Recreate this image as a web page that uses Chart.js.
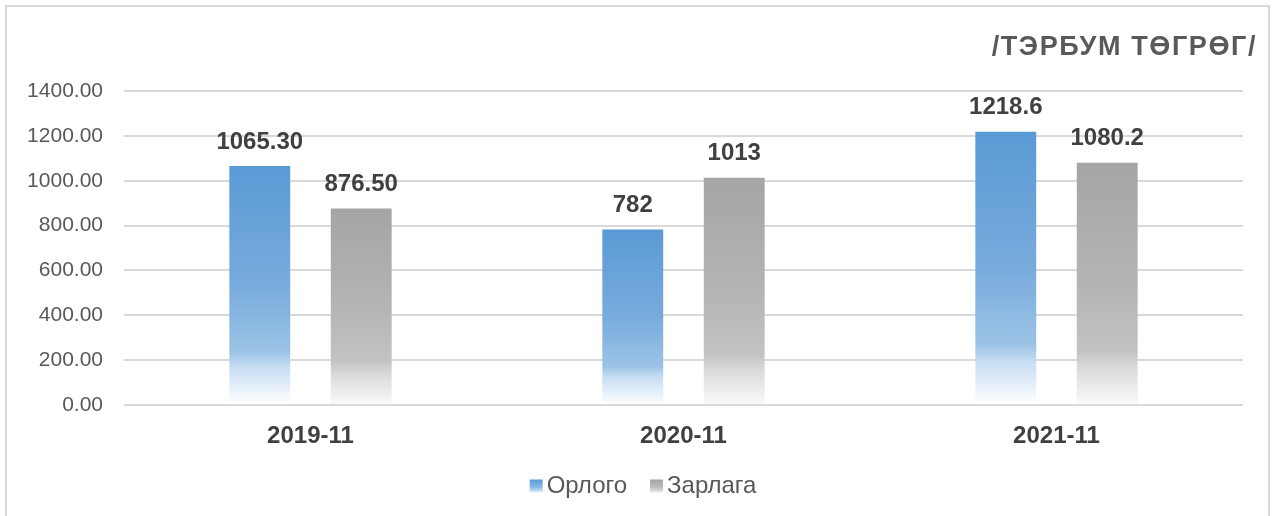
<!DOCTYPE html>
<html><head><meta charset="utf-8">
<script src="https://cdn.jsdelivr.net/npm/chart.js@4.4.0/dist/chart.umd.min.js"></script>
<style>html,body{margin:0;padding:0;background:#fff;}#wrap{position:relative;width:1272px;height:516px;}</style>
</head><body><div id="wrap"><canvas id="c" width="1272" height="516"></canvas></div>
<script>
const categories = ['2019-11', '2020-11', '2021-11'];
const incomeValues = [1065.30, 782, 1218.6];
const expenseValues = [876.50, 1013, 1080.2];
const incomeLabels = ['1065.30', '782', '1218.6'];
const expenseLabels = ['876.50', '1013', '1080.2'];
const seriesNames = ['Орлого', 'Зарлага'];
const yTicks = [0, 200, 400, 600, 800, 1000, 1200, 1400];
const unitTitle = '/ТЭРБУМ ТӨГРӨГ/';

const FONT = "'Liberation Sans', Arial, sans-serif";
const LEGEND_FONT = 24;

function makeGrad(ctx, stops, top, bottom) {
  const g = ctx.createLinearGradient(0, top, 0, bottom);
  stops.forEach(s => g.addColorStop(s[0], s[1]));
  return g;
}
function barGradient(stops, solid) {
  return function (c) {
    const chart = c.chart;
    if (!chart.chartArea || c.type !== 'data') return solid;
    const y = chart.scales.y;
    return makeGrad(chart.ctx, stops, y.getPixelForValue(c.raw), y.getPixelForValue(0));
  };
}
const blueStops = [[0, '#5a9ad5'], [0.5, '#78abdd'], [0.78, '#9cc3e6'], [0.84, '#c6ddf2'], [1, '#ffffff']];
const grayStops = [[0, '#a5a5a5'], [0.5, '#b4b4b4'], [0.78, '#c3c3c3'], [0.84, '#d9d9d9'], [1, '#fafafa']];
const legendStops = [
  [[0, '#5b9bd5'], [0.6, '#8ab9e3'], [1, '#e3eef9']],
  [[0, '#a5a5a5'], [0.6, '#bdbdbd'], [1, '#ececec']]
];

const labelPlugin = {
  id: 'labels',
  afterDatasetsDraw(chart) {
    const ctx = chart.ctx;
    const lbls = [incomeLabels, expenseLabels];
    ctx.save();
    ctx.font = 'bold 24px ' + FONT;
    ctx.fillStyle = '#404040';
    ctx.textAlign = 'center';
    ctx.textBaseline = 'middle';
    chart.data.datasets.forEach((ds, di) => {
      chart.getDatasetMeta(di).data.forEach((bar, i) => {
        ctx.fillText(lbls[di][i], bar.x, bar.y - 24);
      });
    });
    ctx.restore();
  }
};
const framePlugin = {
  id: 'frame',
  afterLayout(chart) {
    // let the y tick labels use the space left of the layout padding
    chart.scales.y.left = 0;
  },
  beforeDraw(chart) {
    const ctx = chart.ctx;
    ctx.save();
    ctx.fillStyle = '#ffffff';
    ctx.fillRect(0, 0, chart.width, chart.height);
    ctx.strokeStyle = '#d9d9d9';
    ctx.lineWidth = 2;
    ctx.strokeRect(6, 6, 1263, 520);
    ctx.restore();
  },
  afterDraw(chart) {
    const ctx = chart.ctx;
    ctx.save();
    ctx.font = 'bold 27px ' + FONT;
    ctx.letterSpacing = '1.6px';
    ctx.fillStyle = '#595959';
    ctx.textAlign = 'right';
    ctx.textBaseline = 'middle';
    ctx.fillText(unitTitle, 1257, 48);
    ctx.restore();
    const lg = chart.legend;
    if (lg && lg.legendHitBoxes) {
      ctx.save();
      lg.legendHitBoxes.forEach((hb, i) => {
        const textX = hb.left + 13 + LEGEND_FONT / 2;
        const bx = textX - 4 - 13;
        const by = hb.top + hb.height / 2 - 6.5;
        ctx.fillStyle = makeGrad(ctx, legendStops[i], by, by + 13);
        ctx.fillRect(bx, by, 13, 13);
      });
      ctx.restore();
    }
  }
};

new Chart(document.getElementById('c'), {
  type: 'bar',
  data: {
    labels: categories,
    datasets: [
      { label: seriesNames[0], data: incomeValues, backgroundColor: barGradient(blueStops, '#5b9bd5'),
        barPercentage: 0.6, categoryPercentage: 0.544 },
      { label: seriesNames[1], data: expenseValues, backgroundColor: barGradient(grayStops, '#a5a5a5'),
        barPercentage: 0.6, categoryPercentage: 0.544 }
    ]
  },
  options: {
    responsive: false,
    animation: false,
    devicePixelRatio: 1,
    layout: { padding: { top: 91, right: 29, left: 35, bottom: 8 } },
    plugins: {
      title: { display: false },
      tooltip: { enabled: false },
      legend: {
        position: 'bottom',
        labels: {
          font: { family: FONT, size: LEGEND_FONT },
          color: '#595959',
          boxWidth: 13, boxHeight: 13, padding: 15,
          generateLabels(chart) {
            return chart.data.datasets.map((d, i) => ({
              text: d.label, fillStyle: 'rgba(0,0,0,0)', strokeStyle: 'rgba(0,0,0,0)', lineWidth: 0,
              datasetIndex: i, hidden: false, fontColor: '#595959'
            }));
          }
        }
      }
    },
    scales: {
      x: {
        grid: { display: false, drawTicks: false },
        border: { display: false },
        ticks: { font: { family: FONT, size: 24, weight: 'bold' }, color: '#404040', padding: 17 },
        afterFit(s) { s.height = 54; }
      },
      y: {
        min: 0, max: 1400,
        afterBuildTicks(s) { s.ticks = yTicks.map(v => ({ value: v })); },
        grid: { color: '#d9d9d9', lineWidth: 2, drawTicks: false },
        border: { display: false },
        ticks: { font: { family: FONT, size: 21 }, color: '#595959', padding: 21,
          callback: v => Number(v).toFixed(2) },
        afterFit(s) { s.width = 89; }
      }
    }
  },
  plugins: [framePlugin, labelPlugin]
});
</script></body></html>
